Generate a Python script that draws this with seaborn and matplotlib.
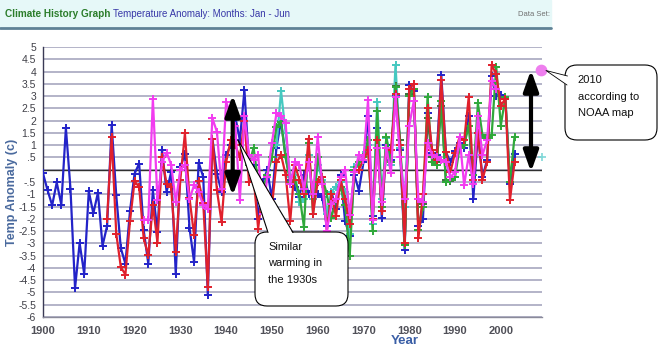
import numpy as np
import pandas as pd
import matplotlib
matplotlib.use("Agg")
import matplotlib.pyplot as plt
import seaborn as sns
from matplotlib.patches import FancyBboxPatch, Polygon, Rectangle, FancyArrowPatch

# station series (temperature anomaly, Jan - Jun)
blue_years = np.arange(1900, 2004)
blue_values = [
    -0.15, -0.84, -1.45, -0.52, -1.42, 1.70, -0.77, -4.82, -2.99, -4.24,
    -0.88, -1.78, -0.93, -3.10, -2.29, 1.82, -1.04, -3.20, -3.83, -1.69,
    -0.16, 0.25, -2.47, -3.83, -0.84, -2.54, 0.80, -0.90, -0.09, -4.24,
    0.10, 0.66, -2.37, -3.76, 0.29, -0.29, -5.09, 1.27, -0.16, -0.90,
    0.60, 1.00, 2.16, 1.20, 3.24, 0.18, 0.20, -2.00, -0.50, 0.00,
    -1.20, 0.90, 2.00, 0.50, -0.40, -0.70, -1.10, -0.20, -1.00, -1.00,
    -1.00, -1.10, -2.30, -0.90, -1.60, -0.20, -2.10, -2.70, -0.20, -0.85,
    0.30, 2.20, -1.90, 1.70, -1.98, 1.00, 0.40, 3.00, 0.80, -3.28,
    3.45, 3.20, -2.30, -2.00, 2.30, 0.70, 0.60, 3.86, 0.73, 0.30,
    0.75, 1.10, 0.90, 2.20, -1.18, 1.50, -0.30, 0.40, 3.80, 3.00,
    3.04, 2.90, -0.60, 0.65,
]
red_years = np.arange(1914, 2004)
red_values = [
    -2.00, 1.34, -2.60, -3.97, -4.27, -2.10,
    -0.47, -0.70, -2.80, -3.49, -1.42, -2.97, 0.52, -0.60, -0.70, -3.35,
    -0.40, 1.48, -1.15, -2.67, -0.46, -1.35, -4.78, 1.24, -0.84, -2.13,
    0.30, 1.20, 1.00, 0.50, 2.00, -0.50, -0.30, -2.40, -0.80, -1.00,
    -1.50, 0.30, 0.60, -0.20, -2.10, 0.20, -0.40, -1.00, 1.27, -1.80,
    -0.50, -0.30, -2.50, -1.00, -1.90, -0.40, -1.20, -2.20, -0.10, 0.00,
    0.40, 0.80, -2.00, 1.20, -1.70, 0.90, 0.80, 3.10, 1.00, -3.00,
    3.30, 3.50, -2.80, -1.00, 2.50, 0.80, 0.40, 3.65, 0.73, -0.09,
    0.70, 1.34, 1.20, 2.97, -0.40, 1.50, -0.40, 0.30, 4.27, 3.90,
    2.60, 2.90, -1.24, 0.30,
]
magenta_years = np.arange(1922, 2000)
magenta_values = [
    -2.04, -2.04, 2.90, -1.24, 0.30, 0.70, 0.20, -1.30,
    0.00, 0.20, -1.20, -0.63, -0.90, -1.45, -1.60, 2.10, 1.54, -0.77,
    2.77, 2.20, 1.80, -1.24, 2.20, 0.60, 0.40, 0.60, -1.80, -0.30,
    1.10, 2.30, 2.20, 1.90, -0.60, 0.30, 0.20, -0.80, 0.30, -1.00,
    1.35, -0.60, -2.50, -1.40, -1.20, -0.30, 0.00, -1.85, -0.10, 0.60,
    0.40, 2.84, -2.06, 0.90, -1.30, 0.90, -0.14, 2.96, 0.50, -1.20,
    1.80, 2.80, -1.20, -1.30, 1.10, 0.60, 0.50, 0.40, 0.30, -0.30,
    -0.10, 1.34, -0.63, 0.60, -0.60, 2.20, 0.60, 1.20, 3.60, 3.30,
]
green_years = np.arange(1945, 2004)
green_values = [
    0.20, 0.90, -0.50, -0.80, -0.20,
    0.50, 1.75, 1.95, 0.50, -0.50, -0.40, -1.00, -2.33, 1.10, -1.80,
    0.50, -0.30, -1.00, -1.95, -1.20, -0.70, -1.45, -3.50, 0.00, 0.30,
    0.50, 1.20, -2.50, 2.40, -1.50, 1.34, 0.30, 3.38, 1.00, -3.08,
    3.00, 3.30, -2.47, -1.50, 2.97, 0.30, 0.20, 2.80, -0.50, -0.40,
    -0.30, 0.90, 1.00, 1.80, -0.20, 2.70, 1.40, 1.30, 1.40, 4.20,
    1.80, 2.95, -0.50, 1.35,
]
teal_years = np.arange(1951, 1982)
teal_values = [
    1.00, 3.20, 1.50, -0.30, -0.20, -1.30, -1.20, 0.60, -1.20,
    0.20, -0.40, -1.80, -0.90, -0.70, -0.50, -0.90, -2.60, 0.10, 0.20,
    0.60, 1.00, -2.20, 2.77, -1.20, 1.30, 0.20, 4.27, 0.90, -1.50,
    3.10, 3.30,
]
darkgreen_years = np.arange(1976, 1991)
darkgreen_values = [
    0.30, 3.40, 1.20, -3.08, 3.10, 3.30, -2.47, -1.40, 2.10, 0.50,
    0.30, 2.60, -0.40, -0.45, -0.30,
]
# 2010 points at the right edge
noaa_years = [2008.8]
noaa_values = [4.06]
teal_2010_years = [2008.9]
teal_2010_values = [0.52]

y_ticks = np.arange(-6, 5.01, 0.5)
x_ticks = np.arange(1900, 2001, 10)


def tick_text(v):
    if abs(v) < 1e-9:
        return ""
    s = f"{v:g}"
    return s.replace("0.", ".")


frames = []
for name, yrs, vals in [
    ("blue", blue_years, blue_values),
    ("teal", teal_years, teal_values),
    ("darkgreen", darkgreen_years, darkgreen_values),
    ("green", green_years, green_values),
    ("red", red_years, red_values),
    ("magenta", magenta_years, magenta_values),
]:
    frames.append(pd.DataFrame({"year": yrs, "anomaly": vals, "station": name}))
data = pd.concat(frames, ignore_index=True)

palette = {
    "blue": "#2323c8",
    "teal": "#45c8c0",
    "darkgreen": "#3c6e3c",
    "green": "#2fa83a",
    "red": "#e0202c",
    "magenta": "#f23cf0",
}

sns.set_style("white")
plt.rcParams["font.family"] = ["Liberation Sans", "DejaVu Sans"]

fig = plt.figure(figsize=(6.66, 3.51), dpi=100)
W, H = 666, 351
ax = fig.add_axes([43 / W, 1 - 317 / H, 499 / W, 270 / H])

sns.lineplot(data=data, x="year", y="anomaly", hue="station",
             hue_order=list(palette.keys()), palette=palette,
             marker="+", markersize=6, markeredgewidth=1.4, linewidth=1.6,
             estimator=None, legend=False, ax=ax, zorder=3)
# seaborn paints marker edges white; give the crosses the line colour
for ln in ax.lines:
    ln.set_markeredgecolor(ln.get_color())

ax.scatter(noaa_years, noaa_values, s=55, color="#ee7fee", zorder=6, clip_on=False)
ax.plot(teal_2010_years, teal_2010_values, marker="+", ms=6, mew=1.2,
        color="#7fd8d8", ls="none", clip_on=False, zorder=6)

ax.set_xlim(1900, 2009)
ax.set_ylim(-6, 5)
ax.set_yticks(y_ticks)
ax.set_yticklabels([tick_text(v) for v in y_ticks], fontsize=7.5, color="#404048")
ax.set_xticks(x_ticks)
ax.set_xticklabels([str(x) for x in x_ticks], fontsize=8, color="#505058",
                   fontweight="bold")
ax.grid(axis="y", color="#aeaec4", lw=1.3)
ax.grid(axis="x", visible=False)
ax.axhline(0, color="#303030", lw=1.0, zorder=2)
ax.set_xlabel("")
ax.set_ylabel("")
for side in ["top", "right"]:
    ax.spines[side].set_visible(False)
ax.spines["left"].set_color("#3a3a55")
ax.spines["left"].set_linewidth(1.0)
ax.spines["bottom"].set_color("#8a8a9a")
ax.spines["bottom"].set_linewidth(1.0)
ax.tick_params(axis="y", direction="out", length=3, width=0.8, color="#3a3a55", pad=2)
ax.tick_params(axis="x", direction="inout", length=7, width=0.9, color="#555560", pad=3)

fig.text(12 / W, 1 - 192 / H, "Temp Anomaly (c)", rotation=90, ha="center",
         va="center", fontsize=9, fontweight="bold", color="#4a6a9e")
fig.text(405 / W, 1 - 341 / H, "Year", ha="center", va="center",
         fontsize=9.5, fontweight="bold", color="#3a5ea6")

# overlay in pixel units for header and callouts
ov = fig.add_axes([0, 0, 1, 1])
ov.set_xlim(0, W)
ov.set_ylim(H, 0)
ov.axis("off")
ov.patch.set_alpha(0)

ov.add_patch(Rectangle((0, 0), 551, 27, color="#e6f8f8", zorder=0))
ov.plot([0, 551], [27.5, 27.5], color="#5f8296", lw=2)
ov.text(5, 14, "Climate History Graph", color="#2b7d2b", fontsize=7.2,
        fontweight="bold", va="center")
ov.text(113, 14, "Temperature Anomaly: Months: Jan - Jun", color="#3838a8",
        fontsize=7.0, va="center")
ov.text(518, 14, "Data Set:", color="#707070", fontsize=5.5, va="center")

# arrows
for xa, y0, y1 in [(232.7, 195.7, 95), (531, 172, 70)]:
    ov.add_patch(FancyArrowPatch((xa, y0), (xa, y1),
                                 arrowstyle="<|-|>,head_length=0.9,head_width=0.32",
                                 mutation_scale=14, lw=3, color="black",
                                 shrinkA=0, shrinkB=0, zorder=9))

# callout 1
ov.add_patch(FancyBboxPatch((255, 232), 93, 74, boxstyle="round,pad=0,rounding_size=12",
                            fc="white", ec="black", lw=0.8, zorder=10))
ov.add_patch(Polygon([(238, 140), (268, 234), (293, 234)], closed=True,
                     fc="white", ec="none", zorder=11))
ov.plot([268, 238, 293], [232.5, 140, 232.5], color="black", lw=0.8, zorder=12)
for i, line in enumerate(["Similar", "warming in", "the 1930s"]):
    ov.text(268.5, 246.7 + i * 16.7, line, fontsize=8, va="center", color="#111111", zorder=13)

# callout 2
ov.add_patch(FancyBboxPatch((565, 65), 92, 75, boxstyle="round,pad=0,rounding_size=12",
                            fc="white", ec="black", lw=0.8, zorder=10))
ov.add_patch(Polygon([(546, 70.5), (567, 76), (566.5, 85)], closed=True,
                     fc="white", ec="none", zorder=11))
ov.plot([567.5, 546, 567], [76, 70.5, 85], color="black", lw=0.6, zorder=12)
for i, line in enumerate(["2010", "according to", "NOAA map"]):
    ov.text(577.5, 80 + i * 16.7, line, fontsize=8, va="center", color="#111111", zorder=13)

plt.savefig("out.png", dpi=100)
plt.close()
